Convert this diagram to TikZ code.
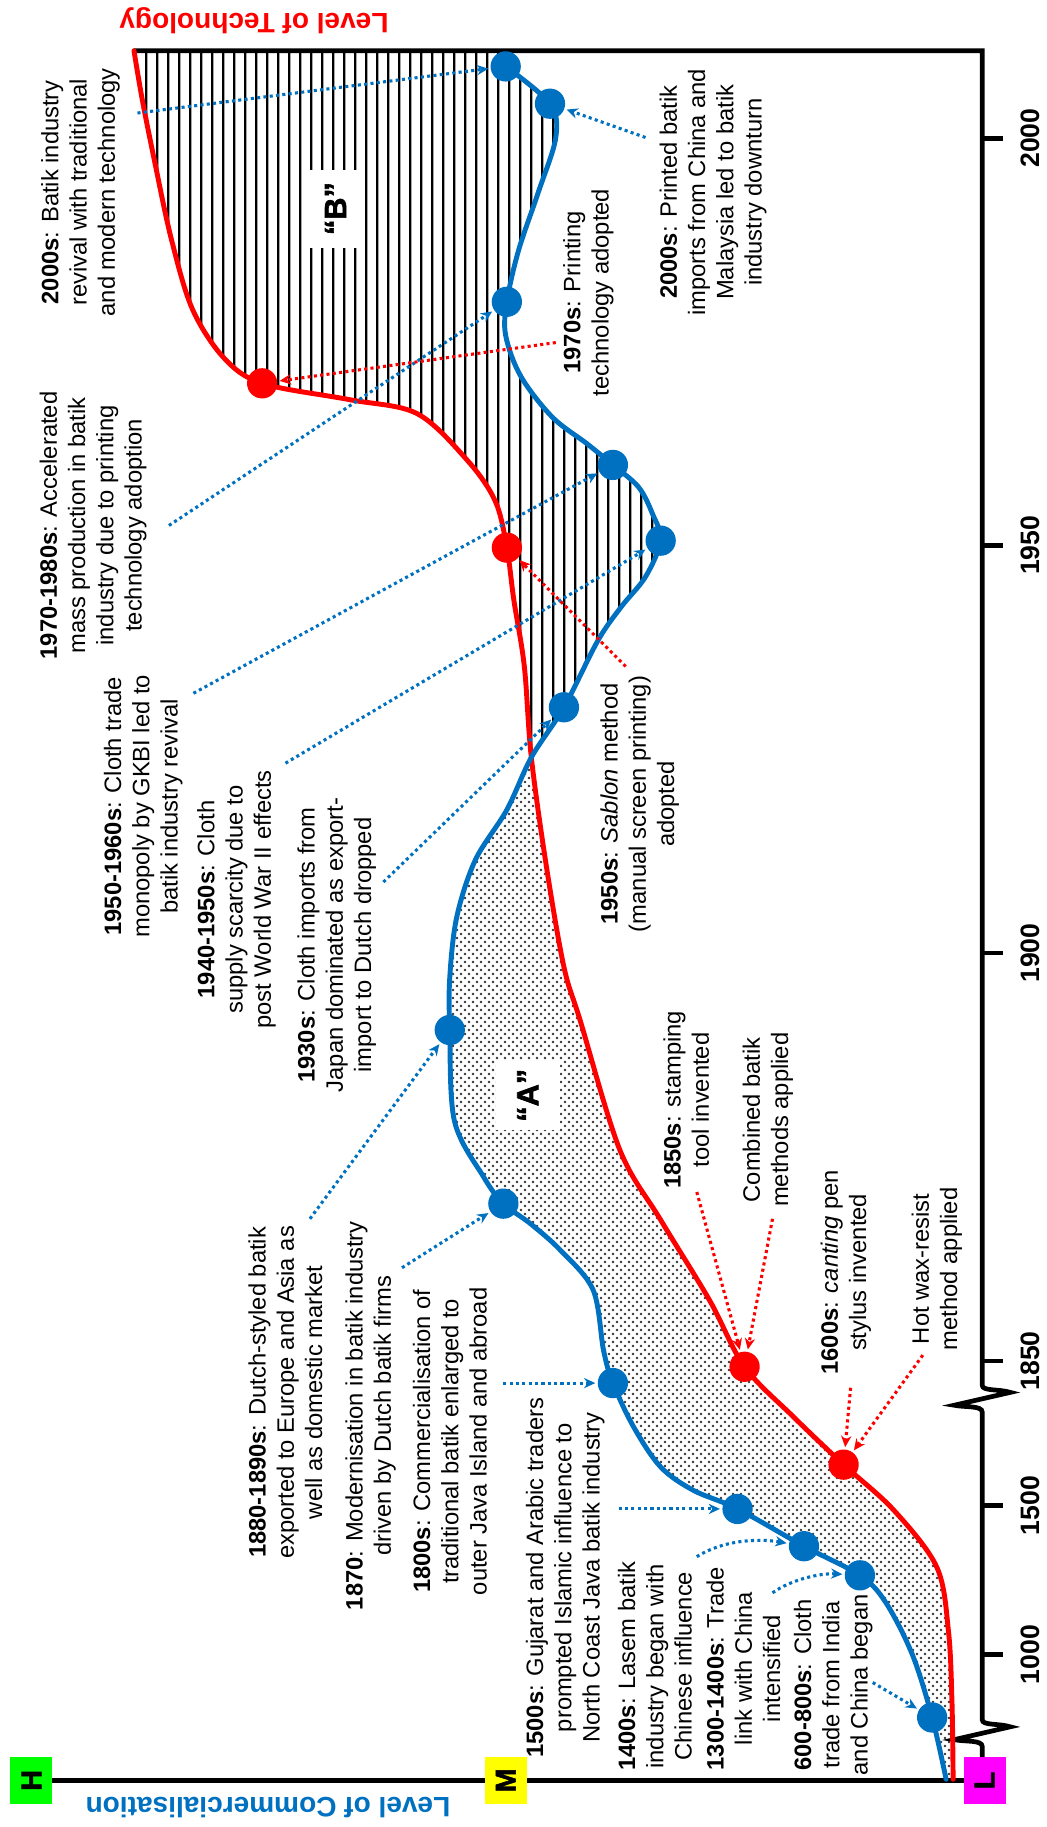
\documentclass[tikz,border=0pt]{standalone}
\usepackage{fontspec}
\setmainfont{Liberation Sans}
\newfontfamily\heavyfont[FakeBold=2]{Liberation Sans}
\usetikzlibrary{arrows.meta,patterns}
\definecolor{cblue}{RGB}{0,112,192}
\definecolor{cred}{RGB}{255,0,0}
\definecolor{cgreen}{RGB}{0,255,0}
\definecolor{cyellow}{RGB}{255,255,0}
\definecolor{cmagenta}{RGB}{255,0,255}

% staggered dot screen for the lower area
\pgfdeclarepatternformonly{sdots}{\pgfqpoint{0pt}{0pt}}{\pgfqpoint{3.9pt}{3.9pt}}{\pgfqpoint{3.9pt}{3.9pt}}{%
  \pgfpathcircle{\pgfqpoint{0.975pt}{0.975pt}}{0.68pt}%
  \pgfpathcircle{\pgfqpoint{2.925pt}{2.925pt}}{0.68pt}%
  \pgfusepath{fill}}
% vertical hatching for the upper area
\pgfdeclarepatternformonly{vhatch}{\pgfqpoint{0pt}{0pt}}{\pgfqpoint{5.3pt}{5.3pt}}{\pgfqpoint{5.3pt}{5.3pt}}{%
  \pgfsetlinewidth{1.1pt}%
  \pgfpathmoveto{\pgfqpoint{2.65pt}{-0.5pt}}\pgfpathlineto{\pgfqpoint{2.65pt}{5.8pt}}%
  \pgfusepath{stroke}}

\begin{document}
\begin{tikzpicture}[x=0.02cm,y=-0.02cm,
  txt/.style={rotate=90,align=center,inner sep=0pt,font=\fontsize{11.6}{13.8}\selectfont},
  yr/.style={rotate=90,inner sep=0pt,font=\fontsize{13}{13}\selectfont\bfseries},
  ttl/.style={rotate=180,inner sep=0pt,font=\fontsize{13.7}{14}\selectfont\bfseries},
  lvl/.style={rotate=90,inner sep=0pt,minimum width=0.8cm,minimum height=0.72cm,font=\fontsize{14}{14}\selectfont\heavyfont\bfseries},
  tag/.style={rotate=90,fill=white,inner sep=0pt,font=\fontsize{15}{15}\selectfont\heavyfont\bfseries},
  bdot/.style={circle,fill=cblue,minimum size=0.52cm,inner sep=0pt},
  rdot/.style={circle,fill=cred,minimum size=0.52cm,inner sep=0pt},
  bcurve/.style={cblue,line width=2.4pt,line join=round,line cap=round},
  rcurve/.style={cred,line width=2.4pt,line join=round,line cap=round},
  bptr/.style={cblue,line width=1.5pt,dash pattern=on 1.5pt off 1.6pt,-{Stealth[length=5.5pt,width=5pt]},shorten >=1pt},
  rptr/.style={cred,line width=1.5pt,dash pattern=on 1.5pt off 1.6pt,-{Stealth[length=5.5pt,width=5pt]},shorten >=1pt},
  axis/.style={line width=2.3pt}]

\useasboundingbox (0,0) rectangle (898,1568);

% ---- shaded areas between the two curves ----
\fill[pattern=sdots,pattern color=black!80]
  plot[smooth,tension=0.55] coordinates {(812,1527) (800,1474) (783,1420) (760,1375) (738,1352) (690,1327) (633,1295) (595,1279) (567,1259) (544,1225) (526,1187) (518,1159) (509,1107) (481,1073) (455,1050) (432,1033) (415,1010) (390,962) (386,884) (386,839) (392,787) (408,738) (435,695) (456,650)}
  -- plot[smooth,tension=0.55] coordinates {(456,650) (469,744) (484,830) (498,876) (532,987) (567,1047) (609,1116) (639,1173) (681,1216) (724,1257) (767,1296) (804,1345) (814,1400) (817,1460) (818,1527)}
  -- cycle;
\fill[pattern=vhatch,pattern color=black]
  plot[smooth,tension=0.55] coordinates {(456,650) (450,572) (441,515) (435,470) (425,430) (401,395) (358,355) (300,343) (225,329) (192,307) (165,265) (147,205) (133,140) (122,85) (115,43.5)}
  -- (434,43.5)
  -- plot[smooth,tension=0.55] coordinates {(434,57) (472,89) (477,118) (462,165) (445,215) (435,259) (434,288) (447,323) (474,358) (504,381) (526,399) (548,418) (560,441) (567,464) (554,495) (533,521) (513,550) (484,607) (456,650)}
  -- cycle;

\node[tag,minimum width=1.2cm,minimum height=1.1cm] (tagA) at (453,940) {“A”};
\node[tag,minimum width=1.34cm,minimum height=1.02cm] (tagB) at (288,179) {“B”};

% ---- axes ----
\draw[axis,line join=miter] (115,43.5) -- (843,43.5) -- (843,1189)
  .. controls (843,1194) and (858,1192) .. (867,1195) -- (819,1206)
  .. controls (828,1208) and (843,1206) .. (843,1212) -- (843,1476)
  .. controls (843,1481) and (858,1479) .. (867,1482) -- (819,1493)
  .. controls (828,1495) and (843,1493) .. (843,1499) -- (843,1528);
\draw[axis] (27,1528) -- (845,1528);
\foreach \yy/\lab in {118.6/2000,468/1950,818/1900,1168/1850,1292/1500,1420/1000}{
  \draw[axis] (843,\yy) -- (861,\yy);
  \node[yr] (y\lab) at (884,\yy) {\lab};
}
\node[lvl,fill=cgreen] (lvH) at (27,1528) {H};
\node[lvl,fill=cyellow] (lvM) at (434,1528) {M};
\node[lvl,fill=cmagenta] (lvL) at (845,1528) {L};
\node[ttl,text=cred] (ttech) at (218,18) {Level of Technology};
\node[ttl,text=cblue] (tcomm) at (230,1551) {Level of Commercialisation};

% ---- curves ----
\draw[rcurve] plot[smooth,tension=0.55] coordinates {(818,1527) (817,1460) (814,1400) (804,1345) (767,1296) (724,1257) (681,1216) (639,1173) (609,1116) (567,1047) (532,987) (498,876) (484,830) (469,744) (456,650) (450,572) (441,515) (435,470) (425,430) (401,395) (358,355) (300,343) (225,329) (192,307) (165,265) (147,205) (133,140) (122,85) (115,43.5)};
\draw[bcurve] plot[smooth,tension=0.55] coordinates {(812,1527) (800,1474) (783,1420) (760,1375) (738,1352) (690,1327) (633,1295) (595,1279) (567,1259) (544,1225) (526,1187) (518,1159) (509,1107) (481,1073) (455,1050) (432,1033) (415,1010) (390,962) (386,884) (386,839) (392,787) (408,738) (435,695) (456,650) (484,607) (513,550) (533,521) (554,495) (567,464) (560,441) (548,418) (526,399) (504,381) (474,358) (447,323) (434,288) (435,259) (445,215) (462,165) (477,118) (472,89) (434,57)};

% ---- event markers ----
\node[bdot] (b600) at (800,1474) {};
\node[bdot] (b1300) at (738,1352) {};
\node[bdot] (b1400) at (690,1327) {};
\node[bdot] (b1500) at (633,1295) {};
\node[bdot] (b1800) at (526,1187) {};
\node[bdot] (b1870) at (432,1033) {};
\node[bdot] (b1880) at (386,884) {};
\node[bdot] (b1930) at (484,607) {};
\node[bdot] (b1940) at (567,464) {};
\node[bdot] (b1950) at (526,399) {};
\node[bdot] (b1970) at (435,259) {};
\node[bdot] (b2000i) at (472,89) {};
\node[bdot] (b2000r) at (434,57) {};
\node[rdot] (r1600) at (724,1257) {};
\node[rdot] (r1850) at (639,1173) {};
\node[rdot] (r1950) at (435,470) {};
\node[rdot] (r1970) at (225,329) {};

% ---- commercialisation events ----
\node[txt] (l2000r) at (69,165) {\textbf{2000s}: Batik industry\\revival with traditional\\and modern technology};
\node[txt] (l1970) at (80,451) {\textbf{1970-1980s}: Accelerated\\mass production in batik\\industry due to printing\\technology adoption};
\node[txt] (l1950) at (123,692) {\textbf{1950-1960s}: Cloth trade\\monopoly by GKBI led to\\batik industry revival};
\node[txt] (l1940) at (203,772) {\textbf{1940-1950s}: Cloth\\supply scarcity due to\\post World War II effects};
\node[txt] (l1930) at (289,811) {\textbf{1930s}: Cloth imports from\\Japan dominated as export-\\import to Dutch dropped};
\node[txt] (l1880) at (245,1195) {\textbf{1880-1890s}: Dutch-styled batik\\exported to Europe and Asia as\\well as domestic market};
\node[txt] (l1870) at (318,1215) {\textbf{1870}: Modernisation in batik industry\\driven by Dutch batik firms};
\node[txt] (l1800) at (386,1237) {\textbf{1800s}: Commercialisation of\\traditional batik enlarged to\\outer Java Island and abroad};
\node[txt] (l1500) at (485,1354) {\textbf{1500s}: Gujarat and Arabic traders\\prompted Islamic influence to\\North Coast Java batik industry};
\node[txt] (l1400) at (562,1430) {\textbf{1400s}: Lasem batik\\industry began with\\Chinese influence};
\node[txt] (l1300) at (638,1432) {\textbf{1300-1400s}: Trade\\link with China\\intensified};
\node[txt] (l600) at (715,1446) {\textbf{600-800s}: Cloth\\trade from India\\and China began};
\node[txt] (l2000i) at (612,165) {\textbf{2000s}: Printed batik\\imports from China and\\Malaysia led to batik\\industry downturn};

% ---- technology events ----
\node[txt] (l1970s) at (505,251) {\textbf{1970s}: Printing\\technology adopted};
\node[txt] (lsablon) at (549,690) {\textbf{1950s}: \textit{Sablon} method\\(manual screen printing)\\adopted};
\node[txt] (l1850s) at (589,944) {\textbf{1850s}: stamping\\tool invented};
\node[txt] (lcomb) at (659,961) {Combined batik\\methods applied};
\node[txt] (l1600) at (726,1092) {\textbf{1600s}: \textit{canting} pen\\stylus invented};
\node[txt] (lwax) at (804,1089) {Hot wax-resist\\method applied};

% ---- pointers ----
\coordinate (a2000r) at (118,97);
\coordinate (a1970) at (145,451);
\coordinate (a1950) at (166,595);
\coordinate (a1940) at (245,655);
\coordinate (a1930) at (329,757);
\coordinate (a1880) at (266,1046);
\coordinate (a1870) at (345,1088);
\coordinate (a1800) at (432,1187);
\coordinate (a1500) at (531,1295);
\coordinate (a1400) at (598,1336);
\coordinate (a1300) at (663,1367);
\coordinate (a600) at (749,1444);
\coordinate (a2000i) at (554,118);
\coordinate (a1970s) at (477,294);
\coordinate (asablon) at (537,572);
\coordinate (a1850s) at (598,1023);
\coordinate (acomb) at (663,1046);
\coordinate (a1600) at (730,1191);
\coordinate (awax) at (792,1163);

\draw[bptr] (a2000r) -- (b2000r);
\draw[bptr] (a1970) -- (b1970);
\draw[bptr] (a1950) -- (b1950);
\draw[bptr] (a1940) -- (b1940);
\draw[bptr] (a1930) -- (b1930);
\draw[bptr] (a1880) -- (b1880);
\draw[bptr] (a1870) -- (b1870);
\draw[bptr] (a1800) -- (b1800);
\draw[bptr] (a1500) -- (b1500);
\draw[bptr] (a1400) .. controls (620,1322) and (650,1320) .. (b1400);
\draw[bptr] (a1300) .. controls (680,1355) and (705,1350) .. (b1300);
\draw[bptr] (a600) -- (b600);
\draw[bptr] (a2000i) -- (b2000i);
\draw[rptr] (a1970s) -- (r1970);
\draw[rptr] (asablon) -- (r1950);
\draw[rptr] (a1850s) -- (r1850);
\draw[rptr] (acomb) -- (r1850);
\draw[rptr] (a1600) -- (r1600);
\draw[rptr] (awax) -- (r1600);

\end{tikzpicture}
\end{document}
